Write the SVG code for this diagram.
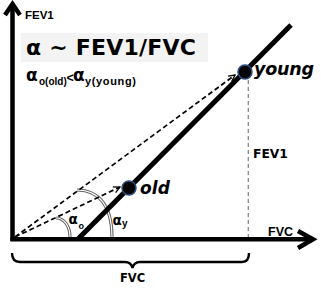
<svg xmlns="http://www.w3.org/2000/svg" width="321" height="299" viewBox="0 0 321 299">
<defs>
<style>
.heavy{font-family:"DejaVu Sans","Liberation Sans",sans-serif;font-weight:bold;fill:#000}
.lab{font-family:"Liberation Sans",Arial,sans-serif;font-weight:bold;fill:#000}
.axis{stroke:#000;stroke-width:4.5;fill:none}
.dash{stroke:#000;stroke-width:1.7;stroke-dasharray:5 3;fill:none}
.arcO{stroke:#666;stroke-width:3.2;fill:none}
.arcI{stroke:#fff;stroke-width:1.1;fill:none}
.dot{fill:#050505;stroke:#2b4d80;stroke-width:1.5}
</style>
<marker id="open" viewBox="0 0 10 10" refX="9" refY="5" markerWidth="8" markerHeight="8" markerUnits="userSpaceOnUse" orient="auto">
<path d="M1,1 L9,5 L1,9" fill="none" stroke="#000" stroke-width="1.6"/>
</marker>
</defs>
<rect width="321" height="299" fill="#fff"/>
<g id="title">
<rect x="21" y="33" width="187" height="29" fill="#f3f3f3"/>
<text class="heavy" x="26" y="55" font-size="22" textLength="170">α ~ FEV1/FVC</text>
<text class="heavy" x="26" y="80.5" font-size="17">α</text>
<text class="lab" x="39" y="85" font-size="10">o(old)</text>
<text class="lab" x="66.5" y="82" font-size="12.5">&lt;</text>
<text class="heavy" x="73" y="80.5" font-size="17">α</text>
<text class="lab" x="85" y="85" font-size="11" textLength="51">y(young)</text>
</g>
<g id="axes">
<polyline class="axis" points="12.5,241 12.5,5" />
<polyline class="axis" points="5,15 12.5,4 20,15" stroke-linejoin="miter"/>
<polyline class="axis" points="10.5,239.3 313,239.3"/>
<polyline class="axis" points="298,231 313,239.3 298,248" stroke-linejoin="miter"/>
<text class="lab" x="25" y="19" font-size="11.5">FEV1</text>
<text class="lab" x="268" y="236" font-size="12.5">FVC</text>
</g>
<g id="angles">
<path class="arcO" d="M56,218 C64,218 70,226 70,237"/>
<path class="arcI" d="M56,218 C64,218 70,226 70,237"/>
<path class="arcO" d="M77,190 C99,190 112,206 112,237"/>
<path class="arcI" d="M77,190 C99,190 112,206 112,237"/>
<text class="heavy" x="68.5" y="224" font-size="13.5">α</text>
<text class="lab" x="78.5" y="229" font-size="9">o</text>
<text class="heavy" x="112.5" y="225" font-size="13.5">α</text>
<text class="lab" x="122" y="226.5" font-size="10">y</text>
</g>
<g id="connectors">
<line class="dash" x1="15" y1="237" x2="120" y2="187" marker-end="url(#open)"/>
<line class="dash" x1="15" y1="237" x2="235" y2="75" marker-end="url(#open)"/>
<line x1="248.3" y1="80" x2="248.3" y2="237" stroke="#888" stroke-width="1.3" stroke-dasharray="4 3"/>
<line x1="78" y1="239" x2="291" y2="25" stroke="#000" stroke-width="5"/>
</g>
<g id="old">
<circle class="dot" cx="129" cy="188" r="7"/>
<text class="heavy" x="140" y="194" font-size="17" font-style="italic" textLength="30">old</text>
</g>
<g id="young">
<circle class="dot" cx="245" cy="72" r="7"/>
<text class="heavy" x="254" y="75" font-size="17.5" font-style="italic" textLength="60">young</text>
</g>
<g id="fev1-label">
<text class="heavy" x="253" y="158.3" font-size="12.3">FEV1</text>
</g>
<g id="fvc-brace">
<path d="M12,253 Q12,262 20,262 L125,262 Q131,262 132.5,268 Q134,262 140,262 L242,262 Q249,262 249,253" fill="none" stroke="#000" stroke-width="2.4"/>
<text class="heavy" x="120" y="282" font-size="11.5">FVC</text>
</g>
</svg>
